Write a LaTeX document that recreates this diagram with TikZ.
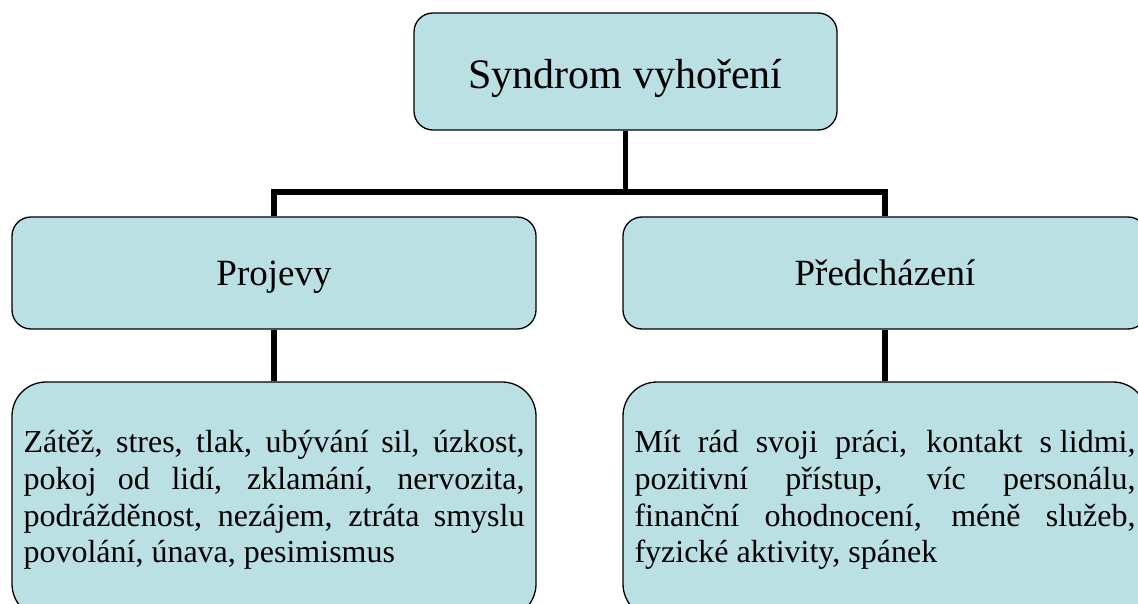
\documentclass[tikz,border=0pt]{standalone}
\usepackage{fontspec}
\setmainfont{Liberation Serif}
\definecolor{boxfill}{RGB}{187,224,227}
\tolerance=10000
\hyphenpenalty=10000
\begin{document}
\begin{tikzpicture}[x=1pt, y=-1pt, line join=miter,
  box/.style={draw, line width=1.3pt, fill=boxfill, rounded corners=19pt, inner sep=0pt},
  headbox/.style={box, minimum width=524pt, minimum height=112pt, text height=24.5pt, text depth=0pt, font=\fontsize{37}{44}\selectfont},
  listbox/.style={box, rounded corners=34pt, minimum height=236pt, text width=501pt, inner xsep=11.5pt, align=justify,
    font=\fontsize{32}{36.7}\selectfont},
  link/.style={line width=5.5pt}]
\useasboundingbox (0,0) rectangle (1138,604);
\clip (0,0) rectangle (1138,604);
% boxes
\node[box, minimum width=423pt, minimum height=117pt, text height=34pt, text depth=0pt,
  font=\fontsize{42}{50}\selectfont] (top) at (625.5,71.5) {Syndrom vyhoření};
\node[headbox] (projevy) at (274,273) {Projevy};
\node[headbox] (predch) at (885,273) {Předcházení};
\node[listbox] (projevyList) at (274,500) {Zátěž, stres, tlak, ubývání sil, úzkost,\linebreak
  pokoj od lidí, zklamání, nervozita,\linebreak
  podrážděnost, nezájem, ztráta smyslu\linebreak
  povolání, únava, pesimismus};
\node[listbox] (predchList) at (885,500) {Mít rád svoji práci, kontakt s\nobreak\hspace{.25em}lidmi,\linebreak
  pozitivní přístup, víc personálu,\linebreak
  finanční ohodnocení, méně služeb,\linebreak
  fyzické aktivity, spánek};
% connectors
\coordinate (fork) at (625.5,192);
\draw[link] (top) -- (fork);
\draw[link] (projevy.north) |- (fork) -| (predch.north);
\draw[link] (projevy) -- (projevyList);
\draw[link] (predch) -- (predchList);
\end{tikzpicture}
\end{document}
